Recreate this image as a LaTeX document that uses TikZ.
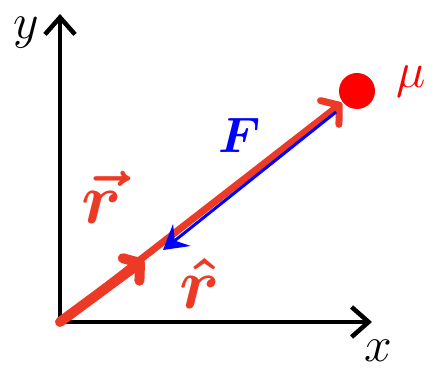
\documentclass[tikz,border=0pt]{standalone}
\usepackage{amsmath}
\usepackage{tikz}
\usetikzlibrary{positioning,arrows.meta}

\definecolor{pen}{RGB}{236,58,38}

\begin{document}
\begin{tikzpicture}[x=1pt, y=1pt,
    axis/.style={line width=4.5pt, -{Straight Barb[length=17pt,width=30pt]}},
    lbl/.style={font=\Huge, scale=2, inner sep=0pt},
    hand/.style={font=\Huge\boldmath, scale=2.9, inner sep=0pt, text=pen},
    mass/.style={circle, fill=red, minimum size=36pt, inner sep=0pt}]
    \useasboundingbox (0,0) rectangle (434,371);

    % axes
    \coordinate (o) at (60,49);
    \coordinate [above=308pt of o] (o1);
    \coordinate [right=312pt of o] (o2);
    \draw [axis] (o) -- (o1);
    \draw [axis] (o) -- (o2);
    \node [lbl] (ylab) at (26,338) {$y$};
    \node [lbl] (xlab) at (378,20) {$x$};

    % mass and position vectors
    \node [mass] (m) at (357,280) {};
    \node [lbl, text=red] (mu) at (411,289) {$\mu$};
    \coordinate (r1) at (342,268);
    \coordinate (r2) at (144,111);
    \draw [pen, line width=7pt, line cap=round,
           -{Straight Barb[length=12pt,width=30pt,round]}] (o) -- (r1);
    \draw [pen, line width=10pt, line cap=round,
           -{Straight Barb[length=11pt,width=28pt,round]}] (o) -- (r2);

    % force
    \coordinate (f0) at (336,259);
    \coordinate (f1) at (163,121);
    \draw [blue, line width=3pt, -{Stealth[length=24pt,width=28pt,inset=9pt]}] (f0) -- (f1);
    \node [lbl, text=blue] (F) at (240,236) {$\boldsymbol{F}$};

    \node [hand] (rvec) at (102,174) {$\vec{r}$};
    \node [hand] (rhat) at (200,88) {$\hat{r}$};
\end{tikzpicture}
\end{document}
